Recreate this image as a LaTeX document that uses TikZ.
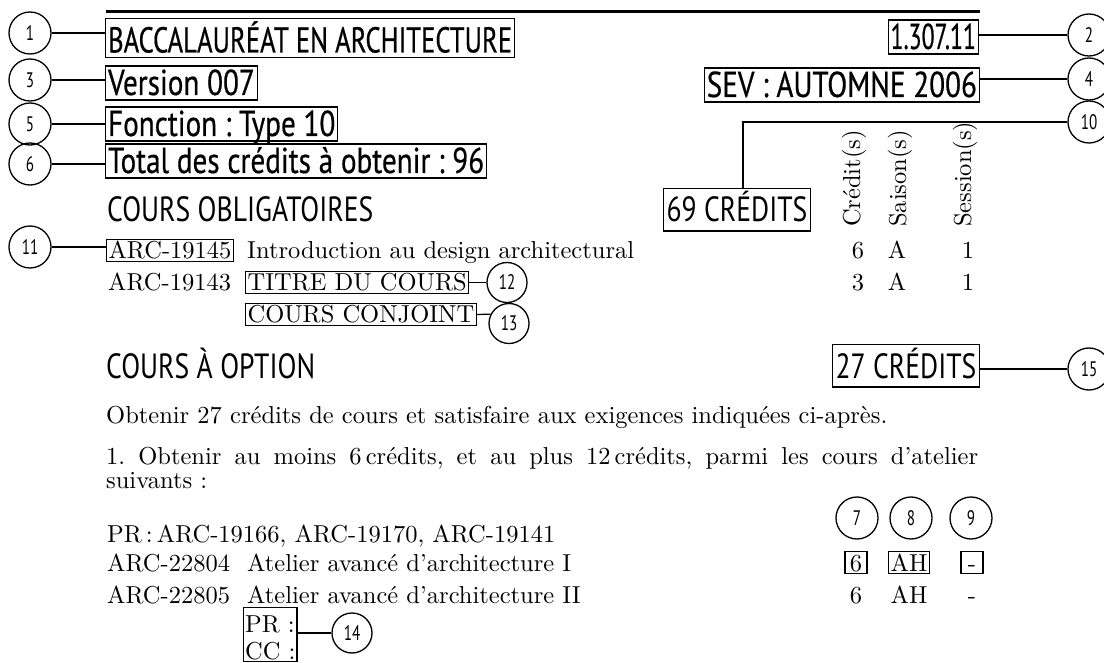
\documentclass[tikz,border=0pt]{standalone}
\usepackage{fontspec}
\usetikzlibrary{calc}
\newfontfamily\ttlfont[FakeStretch=0.74,FakeBold=0.5]{PT Sans}
\newfontfamily\hdfont[FakeStretch=0.81,FakeBold=0.5]{PT Sans}
\newfontfamily\refont[FakeStretch=0.66,FakeBold=0.5]{PT Sans}
\newfontfamily\secfont[FakeStretch=0.79]{PT Sans}
\newfontfamily\numfam[FakeStretch=0.72]{PT Sans}
\newfontfamily\serf{lmroman10-regular.otf}
\tikzset{
  ln/.style={line width=1.2pt},
  hbox/.style={draw, line width=1.2pt, font=\hdfont\fontsize{36}{38}\selectfont,
    inner xsep=2.5pt, inner ysep=1pt, text height=28pt, text depth=4pt},
  sbox/.style={draw, line width=1.2pt, font=\secfont\fontsize{35}{37}\selectfont,
    inner xsep=3pt, inner ysep=3pt, text depth=6pt},
  stxt/.style={font=\secfont\fontsize{35}{37}\selectfont, inner sep=0pt},
  numc/.style={circle, draw, line width=1.3pt, minimum size=42pt, inner sep=0pt,
    font=\numfam\fontsize{21}{21}\selectfont},
  ser/.style={font=\serf\fontsize{24.5}{24.5}\selectfont, inner sep=0pt},
  sbx/.style={draw, line width=1.2pt, font=\serf\fontsize{24.5}{24.5}\selectfont,
    inner xsep=2pt, inner ysep=2.5pt, text height=17pt, text depth=0pt},
  rot/.style={font=\serf\fontsize{24.5}{24.5}\selectfont, inner sep=0pt, rotate=90, anchor=base west},
}
\begin{document}
\frenchspacing
\begin{tikzpicture}[x=1pt,y=-1pt]
\useasboundingbox (0,0) rectangle (1104,663);
% top rule
\coordinate (rl) at (106,12);
\coordinate (rr) at (980,12);
\draw[line width=3pt] (rl) -- (rr);
% header, left
\node[hbox, anchor=west, text height=33pt, font=\ttlfont\fontsize{36}{38}\selectfont] (b1) at (105,38) {BACCALAURÉAT EN ARCHITECTURE};
\node[hbox, anchor=west] (b3) at (105,83) {Version 007};
\node[hbox, anchor=west] (b5) at (105,124) {Fonction : Type 10};
\node[hbox, anchor=west] (b6) at (105,161) {Total des crédits à obtenir : 96};
\node[numc] (c1) at (30,33) {1};
\node[numc] (c3) at (30,80) {3};
\node[numc] (c5) at (30,124) {5};
\node[numc] (c6) at (30,164) {6};
\draw[ln] (c1) -- (c1 -| b1.west);
\draw[ln] (c3) -- (c3 -| b3.west);
\draw[ln] (c5) -- (c5 -| b5.west);
\draw[ln] (c6) -- (c6 -| b6.west);
% header, right
\node[hbox, anchor=east, font=\refont\fontsize{36}{38}\selectfont] (b2) at (979,37) {1.307.11};
\node[hbox, anchor=east] (b4) at (980,85) {SEV : AUTOMNE 2006};
\node[numc] (c2) at (1089,35) {2};
\node[numc] (c4) at (1089,79) {4};
\node[numc] (c10) at (1089,122) {10};
\draw[ln] (c2) -- (c2 -| b2.east);
\draw[ln] (c4) -- (c4 -| b4.east);
% cours obligatoires
\node[stxt, anchor=base west] (co) at (107,222) {COURS OBLIGATOIRES};
\node[sbox, anchor=base west] (b69) at (663,222) {69 CRÉDITS};
\coordinate (k10) at (743,0);
\draw[ln] (c10) -- (k10 |- c10.west) -- (k10 |- b69.north);
\node[rot] (hcr) at (860,227) {Crédit(s)};
\node[rot] (hsa) at (906,227) {Saison(s)};
\node[rot] (hse) at (971,227) {Session(s)};
% row 1
\node[sbx, anchor=base west] (a1) at (106,259) {ARC-19145};
\node[ser, anchor=base west] (t1) at (247,259) {Introduction au design architectural};
\node[ser, anchor=base] (n1a) at (858,259) {6};
\node[ser, anchor=base] (n1b) at (897,259) {A};
\node[ser, anchor=base] (n1c) at (968,259) {1};
\node[numc] (c11) at (30,247) {11};
\draw[ln] (c11) -- (c11 -| a1.west);
% row 2
\node[ser, anchor=base west] (a2) at (108,291) {ARC-19143};
\node[sbx, anchor=base west] (tc) at (245,291) {TITRE DU COURS};
\node[ser, anchor=base] (n2a) at (858,291) {3};
\node[ser, anchor=base] (n2b) at (897,291) {A};
\node[ser, anchor=base] (n2c) at (968,291) {1};
\coordinate (m12) at (507,0);
\node[numc, minimum size=40pt] (c12) at (m12 |- tc.east) {12};
\draw[ln] (tc) -- (c12);
% row 3
\node[sbx, anchor=base west] (cj) at (245,323) {COURS CONJOINT};
\coordinate (m13) at (509,0);
\node[numc, minimum size=40pt] (c13) at ($(m13 |- cj.east)+(0,9)$) {13};
\draw[ln] (cj.east) -- (c13.153);
% cours a option
\node[stxt, anchor=base west] (cao) at (106,378) {COURS À OPTION};
\node[sbox, anchor=base west] (b27) at (832,378) {27 CRÉDITS};
\node[numc] (c15) at (1089,369) {15};
\draw[ln] (c15) -- (c15 -| b27.east);
\node[ser, anchor=base west] (p1) at (106,423) {Obtenir 27 crédits de cours et satisfaire aux exigences indiquées ci-après.};
\node[ser, anchor=base west] (p2) at (106,464) {\makebox[872pt][s]{1. Obtenir au moins 6\,crédits, et au plus 12\,crédits, parmi les cours d’atelier}};
\node[ser, anchor=base west] (p3) at (106,488) {suivants :};
\node[numc] (c7) at (857,518) {7};
\node[numc] (c8) at (911,518) {8};
\node[numc] (c9) at (971,518) {9};
\node[ser, anchor=base west] (pr) at (107,542) {PR\,:\,ARC-19166, ARC-19170, ARC-19141};
\node[ser, anchor=base west] (a3) at (107,571) {ARC-22804};
\node[ser, anchor=base west] (t3) at (247,571) {Atelier avancé d’architecture I};
\node[sbx, anchor=base, minimum width=22pt] (v1) at (856,571) {6};
\node[sbx, anchor=base] (v2) at (909,571) {AH};
\node[sbx, anchor=base, minimum width=22pt] (v3) at (972,571) {-};
\node[ser, anchor=base west] (a4) at (107,603) {ARC-22805};
\node[ser, anchor=base west] (t4) at (247,603) {Atelier avancé d’architecture II};
\node[ser, anchor=base] (w1) at (856,603) {6};
\node[ser, anchor=base] (w2) at (909,603) {AH};
\node[ser, anchor=base] (w3) at (972,603) {-};
\node[draw, ln, font=\serf\fontsize{24.5}{27}\selectfont, align=left, anchor=north west,
  inner xsep=1.5pt, inner ysep=1pt] (pc) at (243,607) {\rule{0pt}{24pt}PR :\\CC :};
\node[numc, minimum size=40pt] (c14) at (352,633) {14};
\draw[ln] (c14.west -| pc.east) -- (c14.west);
\end{tikzpicture}
\end{document}
